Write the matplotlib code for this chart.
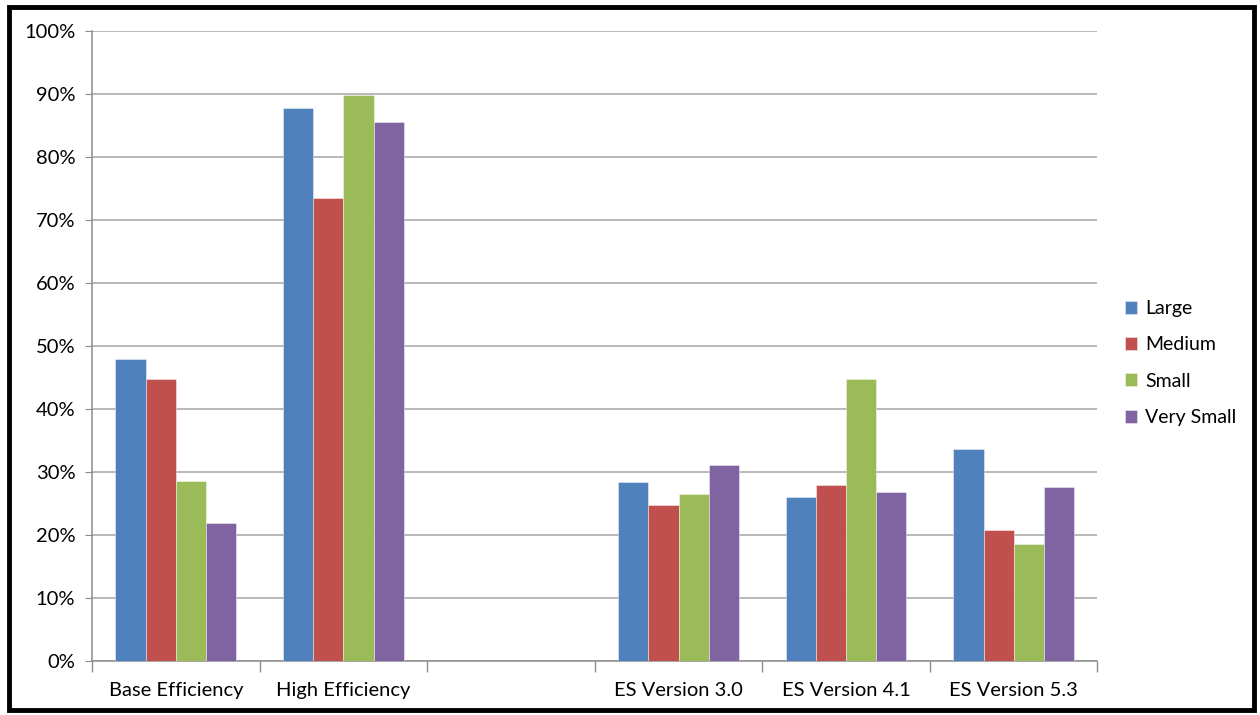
import numpy as np
import matplotlib.pyplot as plt
from matplotlib.patches import Rectangle
from matplotlib.ticker import PercentFormatter

# categories (one empty slot between the two groups)
categories = ["Base Efficiency", "High Efficiency", "", "ES Version 3.0", "ES Version 4.1", "ES Version 5.3"]
series_names = ["Large", "Medium", "Small", "Very Small"]

large = [48.0, 87.8, np.nan, 28.4, 26.0, 33.6]
medium = [44.8, 73.5, np.nan, 24.7, 28.0, 20.8]
small = [28.5, 89.9, np.nan, 26.5, 44.8, 18.5]
very_small = [21.9, 85.5, np.nan, 31.1, 26.8, 27.7]

colors = ["#4F81BD", "#C0504D", "#9BBB59", "#8064A2"]

plt.rcParams['font.family'] = ['Lato', 'DejaVu Sans']

fig = plt.figure(figsize=(12.6, 7.15), dpi=100)
ax = fig.add_axes([0.073, 0.0755, 0.798, 0.881])

x = np.arange(len(categories))
width = 0.18
allSeries = [large, medium, small, very_small]
for i, (vals, name) in enumerate(zip(allSeries, series_names)):
    offset = (i - 1.5) * width
    ax.bar(x + offset, vals, width, color=colors[i], label=name,
           edgecolor=(1, 1, 1, 0.5), linewidth=0.6, zorder=3)

ax.set_xlim(-0.5, len(categories) - 0.5)
ax.set_ylim(0, 100)
ax.set_yticks(np.arange(0, 101, 10))
ax.yaxis.set_major_formatter(PercentFormatter(decimals=0))
ax.grid(axis='y', color='#a6a6a6', linewidth=1.1, zorder=0)

# category labels at centres, tick marks at boundaries
ax.set_xticks(x)
ax.set_xticklabels(categories, fontsize=14.5)
ax.tick_params(axis='x', which='major', length=0, pad=15)
ax.set_xticks(np.arange(-0.5, len(categories)), minor=True)
ax.tick_params(axis='x', which='minor', length=8, color='#8c8c8c', width=1)
ax.tick_params(axis='y', length=5, color='#8c8c8c', labelsize=14.5, pad=7)

for s in ['top', 'right']:
    ax.spines[s].set_visible(False)
for s in ['left', 'bottom']:
    ax.spines[s].set_color('#8c8c8c')
    ax.spines[s].set_linewidth(1.1)

ax.legend(loc='center left', bbox_to_anchor=(1.0, 0.473), frameon=False,
          fontsize=14, handlelength=0.65, handleheight=0.65, handletextpad=0.4,
          labelspacing=1.0, borderaxespad=1.0)

# black frame around the whole chart
fig.patches.append(Rectangle((0.0075, 0.007), 0.988, 0.983, transform=fig.transFigure,
                             fill=False, edgecolor='black', linewidth=3.5))

fig.savefig("out.png", dpi=100)
